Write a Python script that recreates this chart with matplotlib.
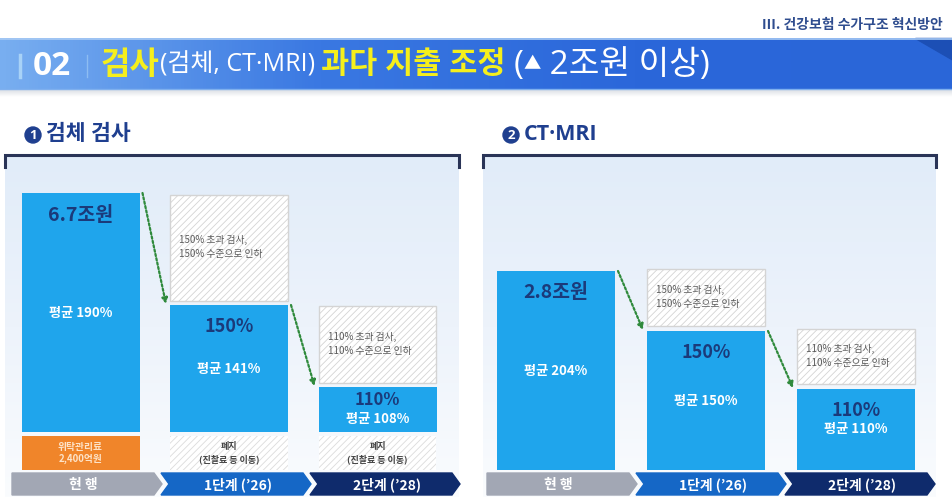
#!/usr/bin/env python3
"""검사 과다 지출 조정 - 검체 / CT·MRI 단계별 인하 도식."""
import numpy as np
import matplotlib
matplotlib.use('Agg')
import matplotlib.pyplot as plt
from matplotlib.colors import LinearSegmentedColormap
from matplotlib.patches import Polygon, Circle

plt.rcParams['font.family'] = ['Noto Sans CJK KR', 'DejaVu Sans']
plt.rcParams['hatch.linewidth'] = 0.6
LATIN = ['Open Sans', 'Noto Sans CJK KR', 'DejaVu Sans']

# ---- data (heights in relative units) ----
stages = ['현 행', '1단계 (’26)', '2단계 (’28)']

lab_base = [34, 34, 34]            # 위탁관리료 / 폐지 segment
lab_blue = [239, 127, 45]          # remaining spend
lab_cut = [0, 106, 77]             # cut (hatched)
lab_base_txt = ['위탁관리료\n2,400억원', '폐지\n(진찰료 등 이동)', '폐지\n(진찰료 등 이동)']
lab_top_txt = ['6.7조원', '150%', '110%']
lab_avg_txt = ['평균 190%', '평균 141%', '평균 108%']
lab_cut_txt = ['', '150% 초과 검사,\n150% 수준으로 인하', '110% 초과 검사,\n110% 수준으로 인하']

ct_blue = [199, 139, 81]
ct_cut = [0, 57, 55]
ct_top_txt = ['2.8조원', '150%', '110%']
ct_avg_txt = ['평균 204%', '평균 150%', '평균 110%']
ct_cut_txt = ['', '150% 초과 검사,\n150% 수준으로 인하', '110% 초과 검사,\n110% 수준으로 인하']

BLUE = '#1fa5ec'
NAVY = '#1b3a7a'
ORANGE = '#f0852a'
GREEN = '#2f8a3c'
W, H = 953, 503

fig = plt.figure(figsize=(W / 100, H / 100), dpi=100)
bg = fig.add_axes([0, 0, 1, 1])
bg.set_xlim(0, W); bg.set_ylim(H, 0); bg.axis('off')

# top-right breadcrumb
bg.text(943, 25, 'Ⅲ. 건강보험 수가구조 혁신방안', ha='right', va='center',
        fontsize=10, color='#2f4d8f', fontweight='bold')

# banner
ban = LinearSegmentedColormap.from_list('ban', ['#78aef0', '#3a78e2', '#2b67da', '#2a66d8'])
bg.imshow(np.linspace(0, 1, 300)[None, :], cmap=ban, aspect='auto',
          extent=(0, W, 89, 38), origin='upper', zorder=1)
bg.add_patch(Polygon([[915, 38], [W, 38], [W, 60]], closed=True, color='#1c4fb5', zorder=2))
bg.plot([0, W], [38.5, 38.5], color='#a9cbf5', lw=1.2, zorder=2)
bg.plot([0, W], [88.5, 88.5], color='#7fb0ee', lw=1.0, zorder=2)
shade = LinearSegmentedColormap.from_list('sh', ['#d9dde3', '#ffffff'])
bg.imshow(np.linspace(0, 1, 20)[:, None], cmap=shade, aspect='auto',
          extent=(0, W, 97, 89), origin='upper', zorder=1)
bg.plot([20, 20], [55, 77], color='#a8d2f7', lw=2.5, zorder=3)
bg.plot([87, 87], [55, 77], color='#8dbdf2', lw=1.0, zorder=3)
bg.text(33, 66, '02', color='white', fontsize=24, fontweight='bold',
        va='center', ha='left', zorder=4, family=LATIN)

t = bg.text(101, 65, '검사', color='#f5ef1c', fontsize=23, fontweight='bold',
            va='center', ha='left', zorder=4)
parts = [('(검체, CT·MRI) ', 'white', 18, 'normal'),
         ('과다 지출 조정 ', '#f5ef1c', 22, 'bold'),
         ('(', 'white', 24, 'normal'),
         ('▲', 'white', 12.5, 'normal'),
         (' 2조원 이상)', 'white', 24, 'normal')]
for s, c, fs, fw in parts:
    t = bg.annotate(s, xy=(1, 0.5), xycoords=t, va='center', ha='left',
                    color=c, fontsize=fs, fontweight=fw, zorder=4, family=LATIN)

# section titles + panel backgrounds
panel_cm = LinearSegmentedColormap.from_list('pn', ['#e1ecf9', '#edf3fb', '#fafcfe'])
for x0, x1, num, title in [(5, 459, '1', '검체 검사'), (483, 936, '2', 'CT·MRI')]:
    bg.imshow(np.linspace(0, 1, 200)[:, None], cmap=panel_cm, aspect='auto',
              extent=(x0, x1, 497, 157), origin='upper', zorder=1)
    bg.plot([x0, x0, x1, x1], [167, 155, 155, 167], color='#2a3457', lw=2.2,
            zorder=3, solid_joinstyle='miter')
    bg.add_patch(Circle((x0 + 28, 135), 8, color='#1f3f8f', zorder=3))
    bg.text(x0 + 28, 135.5, num, color='white', fontsize=9.5, fontweight='bold',
            ha='center', va='center', zorder=4, family=LATIN)
    bg.text(x0 + 41, 134, title, color='#1f3f8f', fontsize=15.5, fontweight='bold',
            ha='left', va='center', zorder=4, family=LATIN)

bg.set_xlim(0, W); bg.set_ylim(H, 0)

# stage chevrons
chev_cols = ['#a2a7b4', '#1567c6', '#0f2b6c']
for x0 in (12, 487):
    seg = 146
    for i, (lab, c) in enumerate(zip(stages, chev_cols)):
        a = x0 + i * (seg + 3)
        b = a + seg - 4
        notch = 0 if i == 0 else 8
        pts = [[a, 473], [b, 473], [b + 8, 484], [b, 495], [a, 495], [a + notch, 484]]
        bg.add_patch(Polygon(pts, closed=True, color=c, zorder=3))
        bg.text((a + b + 8) / 2 + (2 if i else -4), 484.5, lab, color='white', fontsize=10,
                fontweight='bold', ha='center', va='center', zorder=4)


def panel(left_px, centers_px, base, blue, cut, top_txt, avg_txt, cut_txt, base_txt, gap):
    step = centers_px[1] - centers_px[0]
    ax = fig.add_axes([left_px[0] / W, (H - 470) / H,
                       (left_px[1] - left_px[0]) / W, (470 - 157) / H])
    ax.set_xlim((left_px[0] - centers_px[0]) / step, (left_px[1] - centers_px[0]) / step)
    ax.set_ylim(0, 313)
    ax.axis('off')
    ax.patch.set_alpha(0)
    x = np.arange(len(blue))
    wd = 118 / step
    blue_bot = np.array(base) + np.where(np.array(base) > 0, gap, 0)
    if any(base):
        for i in range(len(x)):
            if i == 0:
                ax.bar(x[i], base[i], wd, color=ORANGE, zorder=2)
                ax.text(x[i], base[i] / 2, base_txt[i], ha='center', va='center',
                        color='#fde3c8', fontsize=7, fontweight='bold', linespacing=1.3)
            else:
                ax.bar(x[i], base[i], wd, color='white', edgecolor='#dcdcdc', lw=0,
                       hatch='/////', zorder=2)
                ax.text(x[i], base[i] / 2, base_txt[i], ha='center', va='center',
                        color='#444444', fontsize=6.5, fontweight='bold', linespacing=1.4)
    ax.bar(x, blue, wd, bottom=blue_bot, color=BLUE, zorder=2)
    tops = blue_bot + np.array(blue)
    for i in range(len(x)):
        if blue[i] > 60:
            ax.text(x[i], tops[i] - 22, top_txt[i], ha='center', va='center',
                    color=NAVY, fontsize=14 if i == 0 else 13, fontweight='bold')
            ax.text(x[i], blue_bot[i] + blue[i] / 2, avg_txt[i], ha='center',
                    va='center', color='white', fontsize=9.5, fontweight='bold')
        else:
            ax.text(x[i], tops[i] - 13, top_txt[i], ha='center', va='center',
                    color=NAVY, fontsize=12, fontweight='bold')
            ax.text(x[i], tops[i] - 32, avg_txt[i], ha='center', va='center',
                    color='white', fontsize=9.5, fontweight='bold')
        if cut[i] > 0:
            cb = tops[i] + gap
            ax.bar(x[i], cut[i], wd, bottom=cb, color='white', edgecolor='#d4d4d4',
                   lw=1.0, hatch='/////', zorder=2)
            ax.text(x[i] - wd / 2 + 9 / step, cb + cut[i] / 2 + 1, cut_txt[i], ha='left',
                    va='center', color='#5a5a5a', fontsize=7, linespacing=1.5, zorder=3)
    # dotted arrows from one stage to the next
    for i in range(len(x) - 1):
        ax.annotate('', xy=(x[i + 1] - wd / 2 - 4 / step, tops[i + 1] + 1),
                    xytext=(x[i] + wd / 2 + 3 / step, tops[i]),
                    arrowprops=dict(arrowstyle='-|>', color=GREEN, lw=1.6,
                                    linestyle=(0, (1, 1)), mutation_scale=8,
                                    shrinkA=0, shrinkB=0), zorder=4)


panel((5, 459), [80.5, 229, 377], lab_base, lab_blue, lab_cut, lab_top_txt,
      lab_avg_txt, lab_cut_txt, lab_base_txt, 4)
panel((483, 936), [556, 706, 853], [0, 0, 0], ct_blue, ct_cut, ct_top_txt,
      ct_avg_txt, ct_cut_txt, None, 5)

fig.savefig('out.png', dpi=100)
